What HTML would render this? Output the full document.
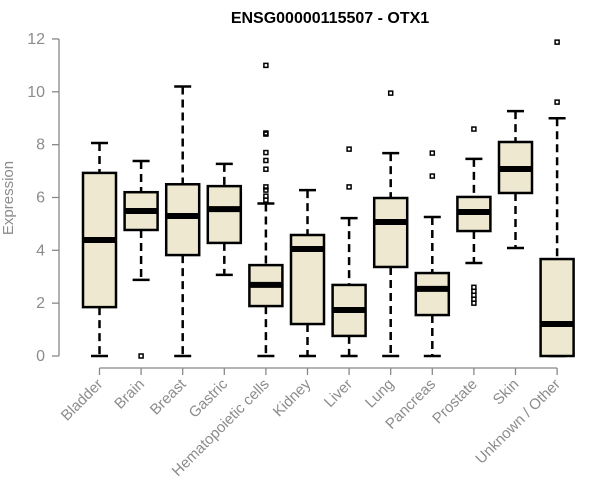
<!DOCTYPE html>
<html><head><meta charset="utf-8"><style>
body{margin:0;background:#fff}
svg{display:block;font-family:"Liberation Sans",Arial,sans-serif}
</style></head><body>
<svg id="chart" width="600" height="500">
<text x="330" y="23" text-anchor="middle" font-weight="bold" font-size="16">ENSG00000115507 - OTX1</text>
<text transform="translate(13,198) rotate(-90)" text-anchor="middle" font-size="15" fill="#8c8c8c">Expression</text>
<g id="axes"></g><g id="boxes"></g>
</svg>
<script>
const categories=["Bladder","Brain","Breast","Gastric","Hematopoietic cells","Kidney","Liver","Lung","Pancreas","Prostate","Skin","Unknown / Other"];
const whiskerLow=[0,2.88,0,3.07,0,0,0,0,0,3.52,4.09,0];
const q1=[1.85,4.77,3.82,4.28,1.89,1.21,0.76,3.37,1.55,4.73,6.17,0];
const medians=[4.39,5.49,5.3,5.56,2.69,4.05,1.74,5.07,2.54,5.45,7.08,1.21];
const q3=[6.93,6.2,6.5,6.43,3.44,4.58,2.69,5.98,3.14,6.02,8.1,3.67];
const whiskerHigh=[8.06,7.38,10.2,7.27,5.77,6.28,5.22,7.68,5.26,7.46,9.27,9.0];
const outliers=[[],[0],[],[],[11.0,8.44,8.4,7.7,7.4,7.07,6.4,6.28,6.05,5.9],[],[7.83,6.4],[9.95],[7.68,6.81],[8.59,2.6,2.45,2.3,2.15,2.0],[],[11.88,9.61]];
const yTicks=[0,2,4,6,8,10,12];
const NS="http://www.w3.org/2000/svg";
const y=v=>356-v*26.42;
const x=i=>99.5+i*41.6;
function mk(p,t,a){const e=document.createElementNS(NS,t);for(const k in a)e.setAttribute(k,a[k]);p.appendChild(e);return e;}
const ax=document.getElementById('axes'),bx=document.getElementById('boxes');
const yl=mk(ax,'line',{x1:59,x2:59,y1:y(0),y2:y(12),stroke:'#888','stroke-width':1.3});


yTicks.forEach(t=>{
 const l=mk(ax,'line',{x1:52,x2:59,y1:y(t),y2:y(t),stroke:'#888','stroke-width':1.3});
 
 
 const tx=mk(ax,'text',{x:45,y:y(t)+5,'text-anchor':'end','font-size':16,fill:'#8c8c8c'});
 tx.textContent=t;
 
 
});
const xl=mk(ax,'line',{x1:x(0),x2:x(categories.length-1),y1:368,y2:368,stroke:'#888','stroke-width':1.3});


categories.forEach((c,i)=>{
 const cx=x(i);
 const l=mk(ax,'line',{x1:cx,x2:cx,y1:368,y2:375,stroke:'#888','stroke-width':1.3});
 
 
 const tx=mk(ax,'text',{transform:`translate(${cx+4},385) rotate(-45)`,'text-anchor':'end','font-size':15,fill:'#8c8c8c'});
 tx.textContent=c;
 
 
 const g=mk(bx,'g',{});
 
 
 const ds={stroke:'#000','stroke-width':2.5,'stroke-dasharray':'8,5'};
 mk(g,'line',Object.assign({x1:cx,x2:cx,y1:y(whiskerHigh[i]),y2:y(q3[i])},ds));
 mk(g,'line',Object.assign({x1:cx,x2:cx,y1:y(q1[i]),y2:y(whiskerLow[i])},ds));
 mk(g,'line',{x1:cx-8.5,x2:cx+8.5,y1:y(whiskerHigh[i]),y2:y(whiskerHigh[i]),stroke:'#000','stroke-width':2.5});
 mk(g,'line',{x1:cx-8.5,x2:cx+8.5,y1:y(whiskerLow[i]),y2:y(whiskerLow[i]),stroke:'#000','stroke-width':2.5});
 mk(g,'rect',{x:cx-16.5,y:y(q3[i]),width:33,height:y(q1[i])-y(q3[i]),fill:'#ede8cf',stroke:'#000','stroke-width':2.5});
 mk(g,'line',{x1:cx-16.5,x2:cx+16.5,y1:y(medians[i]),y2:y(medians[i]),stroke:'#000','stroke-width':6});
 outliers[i].forEach(o=>{
  const r=mk(g,'rect',{x:cx-2,y:y(o)-2,width:4,height:4,fill:'none',stroke:'#000','stroke-width':1.5});
  
  
 });
});
</script>
</body></html>
